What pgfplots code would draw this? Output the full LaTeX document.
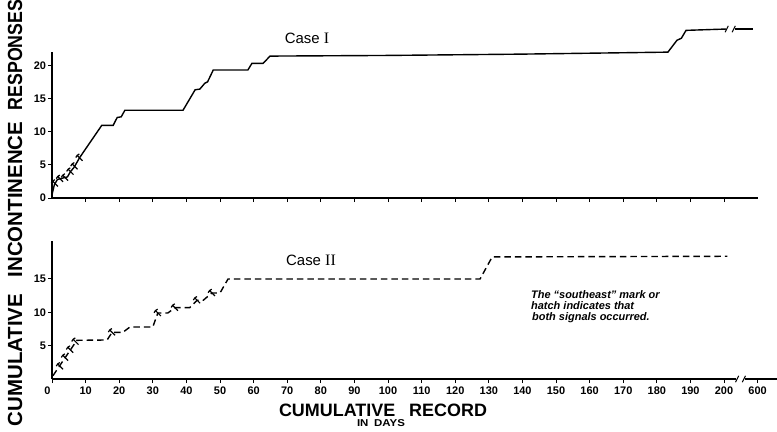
\documentclass[border=0pt]{standalone}
\usepackage{pgfplots}
\pgfplotsset{compat=1.18}
\usepackage{graphicx}
\usepackage{fontspec}
\setmainfont{Liberation Sans}
\newfontfamily\romanf{Liberation Serif}

\pgfdeclareplotmark{se}{%
 \pgfpathmoveto{\pgfpoint{-2.4pt}{2.4pt}}\pgfpathlineto{\pgfpoint{3.0pt}{-3.0pt}}%
 \pgfpathmoveto{\pgfpoint{-3.8pt}{0.2pt}}\pgfpathlineto{\pgfpoint{-2.4pt}{2.4pt}}\pgfpathlineto{\pgfpoint{-0.2pt}{3.8pt}}%
 \pgfusepathqstroke}
\pgfdeclareplotmark{brk}{%
 \pgfpathmoveto{\pgfpoint{-1.6pt}{-3.2pt}}\pgfpathlineto{\pgfpoint{1.6pt}{3.2pt}}\pgfusepathqstroke}

\pgfplotsset{myax/.style={
  axis lines=left,
  axis line style={-, line width=1.1bp},
  x=3.36bp, xmin=0, ymin=0,
  tick align=outside, major tick length=4bp,
  tick style={line width=1bp, black},
  ticklabel style={font=\bfseries\fontsize{11}{11}\selectfont},
  /pgf/number format/assume math mode=true,
  clip=false}}

\begin{document}
\begin{tikzpicture}[x=1bp,y=1bp]
\path[use as bounding box] (0,0) rectangle (777,431);

% ---------- Case I ----------
\begin{axis}[myax, at={(52bp,233bp)}, anchor=south west, y=6.6bp,
  xmax=210, ymax=22.1,
  xtick={10,20,...,200}, xticklabels={,,},
  ytick={0,5,10,15,20},
  yticklabel style={xshift=1.5bp}]
\addplot[black, line width=1.4bp] coordinates {
 (0,0.5)(0.7,2.0)(1.6,2.8)(3.0,3.0)(4.6,3.2)(5.5,4.0)(6.5,4.6)(7.2,5.2)(8.2,6.1)
 (14.8,11.0)(18.2,11.0)(19.4,12.2)(20.6,12.3)(21.7,13.3)(39.0,13.3)(42.6,16.4)
 (44.0,16.5)(45.5,17.4)(46.3,17.6)(48.0,19.4)(58.3,19.4)(59.5,20.4)(62.8,20.4)
 (64.9,21.5)(100,21.6)(140,21.8)(183.3,22.1)(186,23.9)(187.3,24.2)(188.7,25.4)(200.6,25.6)};
\addplot[black, line width=1.4bp] coordinates {(203.3,25.6)(208.6,25.6)};
\addplot[black, only marks, mark=brk, line width=1bp] coordinates {(200.8,25.6)(202.9,25.6)};
\addplot[black, only marks, mark=se, line width=1.2bp] coordinates {
 (0.9,2.2)(2.4,2.9)(3.9,3.1)(5.5,4.0)(6.7,4.8)(8.2,6.1)};
\end{axis}

% ---------- Case II ----------
\begin{axis}[myax, at={(52bp,52bp)}, anchor=south west, y=6.67bp,
  xmax=216, ymax=20.7,
  x axis line style={draw=none},
  xtick={0,10,20,30,40,50,60,70,80,90,100,110,120,130,140,150,160,170,180,190,200,210},
  xticklabels={{\makebox[0pt][r]{0\hspace{1.5bp}}},10,20,30,40,50,60,70,80,90,100,110,120,130,140,150,160,170,180,190,200,600},
  ytick={5,10,15},
  yticklabel style={xshift=1.5bp}]
\draw[line width=1.1bp] (axis cs:0,0) -- (axis cs:203.6,0);
\draw[line width=1.1bp] (axis cs:206.2,0) -- (axis cs:216,0);
\addplot[black, only marks, mark=brk, line width=1bp] coordinates {(203.9,0)(205.9,0)};
\addplot[black, line width=1.4bp, dash pattern=on 6.5bp off 4bp] coordinates {
 (0.3,0.5)(7.4,5.8)(16.4,5.85)(17.9,7.0)(21.1,7.0)(23.2,7.8)(30.0,7.8)(31.5,9.9)
 (34.5,9.9)(36.6,10.7)(41.0,10.7)(43.2,11.8)(45.0,11.8)(47.6,12.9)(50.0,12.9)
 (52.4,15.0)(127.4,15.0)(131.0,18.3)(201,18.4)};
\addplot[black, only marks, mark=se, line width=1.2bp] coordinates {
 (2.4,1.9)(3.9,3.2)(5.4,4.4)(7.0,5.6)(17.9,7.0)(31.5,9.9)(36.6,10.7)(43.2,11.8)(47.6,12.9)};
\end{axis}

% ---------- texts ----------
\node[font=\fontsize{15}{15}\selectfont] at (307,393) {Case {\romanf\fontsize{16}{16}\selectfont I}};
\node[font=\fontsize{15}{15}\selectfont] at (311,171) {Case {\romanf\fontsize{16}{16}\selectfont II}};
\node[anchor=north west, align=left, inner sep=0, font=\bfseries\itshape\fontsize{11}{11}\selectfont]
  at (531,141) {The ``southeast'' mark or\\hatch indicates that\\\hspace{1bp}both signals occurred.};

\node[font=\bfseries\fontsize{18}{18}\selectfont] at (383,21) {CUMULATIVE\hspace{14bp}RECORD};
\node[font=\bfseries\fontsize{10}{10}\selectfont] at (381,8) {\scalebox{1.15}[1]{IN\hspace{5bp}DAYS}};

\node[rotate=90, inner sep=0, font=\bfseries\fontsize{20.5}{20.5}\selectfont] at (15,71) {CUMULATIVE};
\node[rotate=90, inner sep=0, font=\bfseries\fontsize{20.5}{20.5}\selectfont] at (15,231.5) {INCONTINENCE};
\node[rotate=90, inner sep=0, font=\bfseries\fontsize{20.5}{20.5}\selectfont] at (15,376) {\scalebox{0.87}[1]{RESPONSES}};
\end{tikzpicture}
\end{document}
